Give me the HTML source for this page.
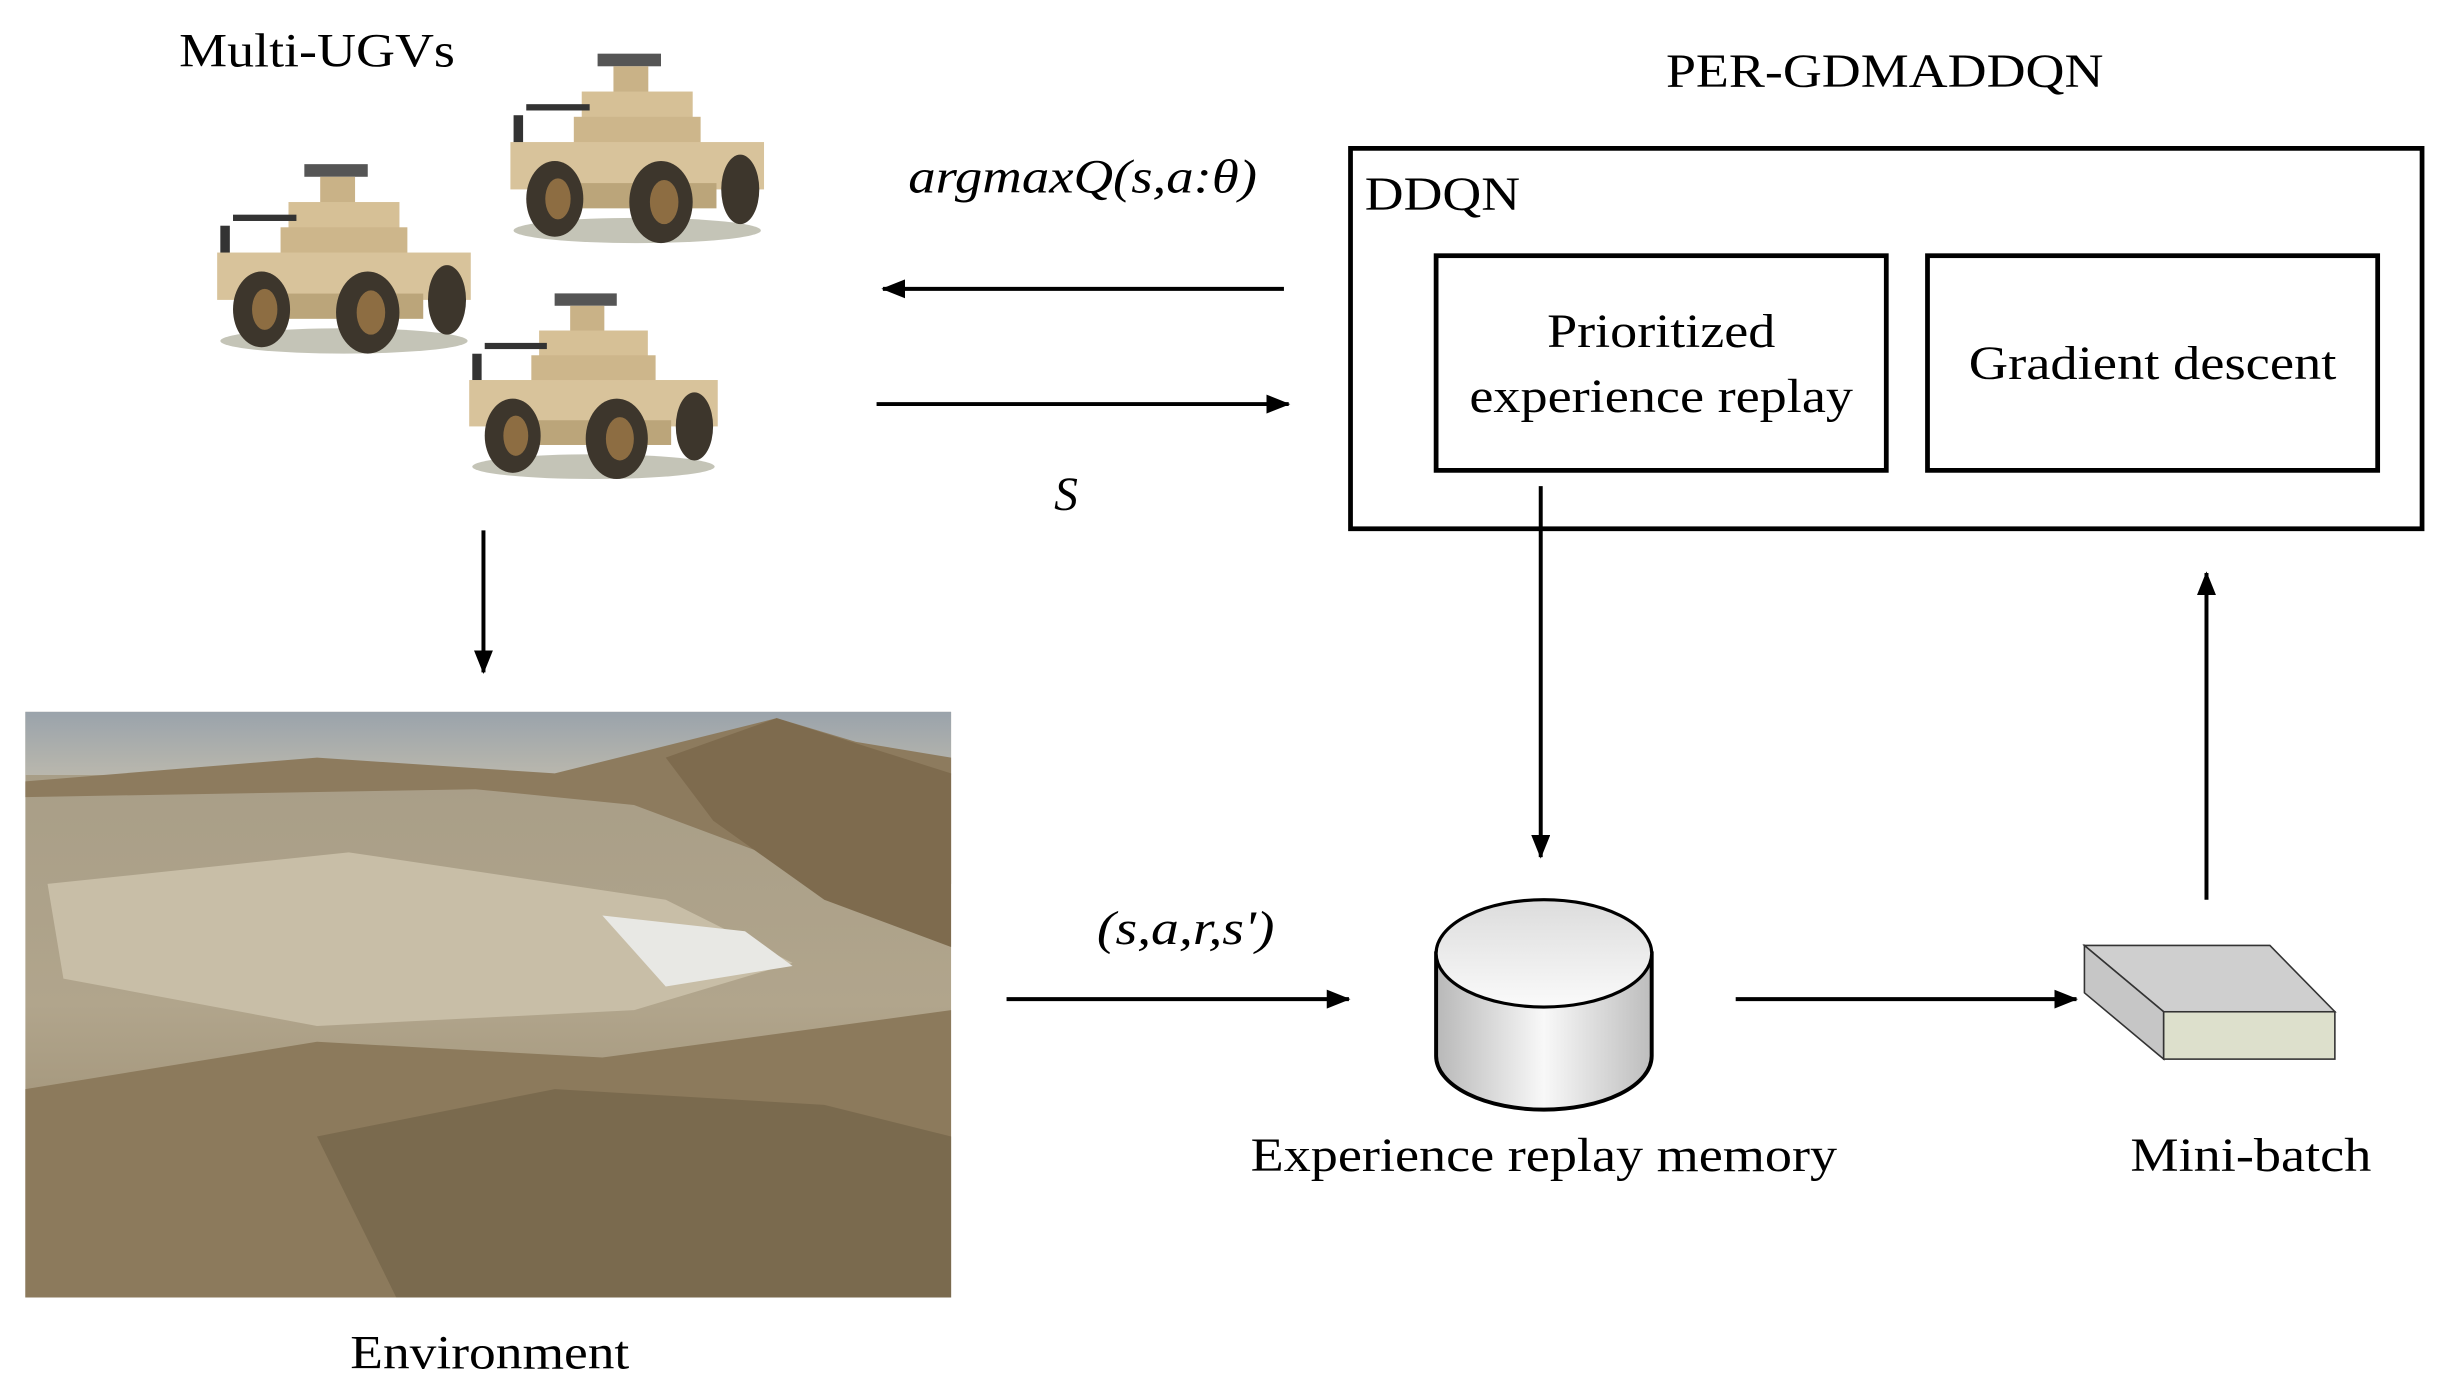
<!DOCTYPE html>
<html><head><meta charset="utf-8"><style>
html,body{margin:0;padding:0;background:#fff;}
svg{display:block;}
text{font-family:"Liberation Serif",serif;fill:#000;}
</style></head><body>
<svg width="2449" height="1389" viewBox="0 0 1545 880" preserveAspectRatio="none" xmlns="http://www.w3.org/2000/svg">
<defs>
<marker id="ah" markerWidth="15" markerHeight="12" refX="14" refY="6" orient="auto" markerUnits="userSpaceOnUse"><path d="M0,0 L15,6 L0,12 Z" fill="#000"/></marker>
<linearGradient id="cyl" x1="0" x2="1"><stop offset="0" stop-color="#b8b8b8"/><stop offset="0.5" stop-color="#f8f8f8"/><stop offset="1" stop-color="#bdbdbd"/></linearGradient>
<linearGradient id="cyltop" x1="0" y1="0" x2="0" y2="1"><stop offset="0" stop-color="#dcdcdc"/><stop offset="1" stop-color="#fafafa"/></linearGradient>
<linearGradient id="sky" x1="0" y1="0" x2="0" y2="1"><stop offset="0" stop-color="#9aa3ab"/><stop offset="1" stop-color="#b9b7ad"/></linearGradient>
<linearGradient id="ground" x1="0" y1="0" x2="0" y2="1"><stop offset="0" stop-color="#a69c86"/><stop offset="0.5" stop-color="#b1a58c"/><stop offset="1" stop-color="#8f7f62"/></linearGradient>
<g id="veh">
<ellipse cx="80" cy="118" rx="78" ry="8" fill="#8a8a70" opacity="0.5"/>
<rect x="55" y="6" width="40" height="8" fill="#555"/>
<rect x="65" y="14" width="22" height="18" fill="#c9b287"/>
<rect x="45" y="30" width="70" height="18" fill="#d6c096"/>
<rect x="10" y="38" width="40" height="4" fill="#333"/>
<rect x="2" y="45" width="6" height="22" fill="#333"/>
<rect x="40" y="46" width="80" height="30" fill="#cdb68b"/>
<rect x="0" y="62" width="160" height="30" fill="#d8c39b"/>
<rect x="30" y="88" width="100" height="16" fill="#bba57a"/>
<ellipse cx="28" cy="98" rx="18" ry="24" fill="#3d362c"/>
<ellipse cx="30" cy="98" rx="8" ry="13" fill="#8d6d42"/>
<ellipse cx="95" cy="100" rx="20" ry="26" fill="#3d362c"/>
<ellipse cx="97" cy="100" rx="9" ry="14" fill="#8d6d42"/>
<ellipse cx="145" cy="92" rx="12" ry="22" fill="#3d362c"/>
</g>
</defs>

<use href="#veh" transform="translate(322,28) scale(1)"/>
<use href="#veh" transform="translate(137,98) scale(1)"/>
<use href="#veh" transform="translate(296,180) scale(0.98)"/>

<text x="113" y="42" font-size="30" textLength="174" lengthAdjust="spacingAndGlyphs">Multi-UGVs</text>
<text x="1051" y="55" font-size="30" textLength="276" lengthAdjust="spacingAndGlyphs">PER-GDMADDQN</text>

<rect x="852" y="94" width="676" height="241" fill="none" stroke="#000" stroke-width="3"/>
<text x="861" y="133" font-size="30" textLength="98" lengthAdjust="spacingAndGlyphs">DDQN</text>
<rect x="906" y="162" width="284" height="136" fill="none" stroke="#000" stroke-width="3"/>
<text x="1048" y="220" font-size="30" text-anchor="middle" textLength="144" lengthAdjust="spacingAndGlyphs">Prioritized</text>
<text x="1048" y="261" font-size="30" text-anchor="middle" textLength="242" lengthAdjust="spacingAndGlyphs">experience replay</text>
<rect x="1216" y="162" width="284" height="136" fill="none" stroke="#000" stroke-width="3"/>
<text x="1358" y="240" font-size="30" text-anchor="middle" textLength="232" lengthAdjust="spacingAndGlyphs">Gradient descent</text>

<text x="573" y="122" font-size="30" font-style="italic" textLength="220" lengthAdjust="spacingAndGlyphs">argmaxQ(s,a:θ)</text>
<line x1="810" y1="183" x2="557" y2="183" stroke="#000" stroke-width="2.5" marker-end="url(#ah)"/>
<line x1="553" y1="256" x2="813" y2="256" stroke="#000" stroke-width="2.5" marker-end="url(#ah)"/>
<text x="665" y="323" font-size="30" font-style="italic">S</text>

<line x1="305" y1="336" x2="305" y2="426" stroke="#000" stroke-width="2.5" marker-end="url(#ah)"/>

<rect x="16" y="451" width="584" height="371" fill="url(#ground)"/>
<rect x="16" y="451" width="584" height="40" fill="url(#sky)"/>
<path d="M16,495 L200,480 L350,490 L430,470 L490,455 L540,470 L600,480 L600,560 L480,540 L400,510 L300,500 L16,505 Z" fill="#8d7b5e"/>
<path d="M420,480 L490,455 L600,490 L600,600 L520,570 L450,520 Z" fill="#7e6b4e"/>
<path d="M30,560 L220,540 L420,570 L500,610 L400,640 L200,650 L40,620 Z" fill="#c8bea7"/>
<path d="M380,580 L470,590 L500,612 L420,625 Z" fill="#e8e8e4"/>
<path d="M16,690 L200,660 L380,670 L600,640 L600,822 L16,822 Z" fill="#8c7a5c"/>
<path d="M200,720 L350,690 L520,700 L600,720 L600,822 L250,822 Z" fill="#7a6a4e"/>
<text x="309" y="867" font-size="30" text-anchor="middle" textLength="176" lengthAdjust="spacingAndGlyphs">Environment</text>

<text x="692" y="598" font-size="30" font-style="italic" textLength="112" lengthAdjust="spacingAndGlyphs">(s,a,r,s')</text>
<line x1="635" y1="633" x2="851" y2="633" stroke="#000" stroke-width="2.5" marker-end="url(#ah)"/>

<path d="M906,604 L906,669 A68,34 0 0 0 1042,669 L1042,604 Z" fill="url(#cyl)" stroke="#000" stroke-width="2.5"/>
<ellipse cx="974" cy="604" rx="68" ry="34" fill="url(#cyltop)" stroke="#000" stroke-width="2"/>
<text x="974" y="742" font-size="30" text-anchor="middle" textLength="370" lengthAdjust="spacingAndGlyphs">Experience replay memory</text>

<line x1="972" y1="308" x2="972" y2="543" stroke="#000" stroke-width="2.5" marker-end="url(#ah)"/>

<line x1="1095" y1="633" x2="1310" y2="633" stroke="#000" stroke-width="2.5" marker-end="url(#ah)"/>

<polygon points="1315,599 1432,599 1473,641 1365,641" fill="#cfcfcf" stroke="#333" stroke-width="1"/>
<polygon points="1315,599 1365,641 1365,671 1315,629" fill="#c6c6c6" stroke="#333" stroke-width="1"/>
<rect x="1365" y="641" width="108" height="30" fill="#dde0cc" stroke="#333" stroke-width="1"/>
<text x="1420" y="742" font-size="30" text-anchor="middle" textLength="152" lengthAdjust="spacingAndGlyphs">Mini-batch</text>

<line x1="1392" y1="570" x2="1392" y2="363" stroke="#000" stroke-width="2.5" marker-end="url(#ah)"/>
</svg>
</body></html>
